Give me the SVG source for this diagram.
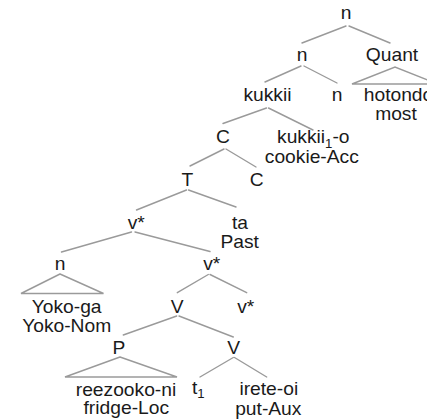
<svg xmlns="http://www.w3.org/2000/svg" width="427" height="419" viewBox="0 0 427 419">
<style>
text { font-family: "Liberation Sans", Arial, Helvetica, sans-serif; font-size: 17.5px; fill: #1a1a1a; text-anchor: middle; transform: scaleX(1.1); transform-box: fill-box; transform-origin: center; }
.sub { font-size: 12px; }
#connectors line, #connectors polyline { stroke: #9a9a9a; stroke-width: 1.4; fill: none; stroke-linecap: round; }
</style>
<rect width="427" height="419" fill="#ffffff"/>
<g id="connectors">
  <line x1="346" y1="26" x2="302" y2="43"/>
  <line x1="349" y1="26" x2="390" y2="43"/>
  <line x1="301" y1="66" x2="265" y2="82"/>
  <line x1="304" y1="66" x2="337" y2="83"/>
  <polyline points="438,84 395,67 352,84 438,84"/>
  <line x1="266.5" y1="108" x2="223" y2="123.5"/>
  <line x1="268.5" y1="108" x2="313" y2="130"/>
  <line x1="224" y1="149" x2="190" y2="166"/>
  <line x1="226" y1="149" x2="256" y2="167"/>
  <line x1="186.5" y1="190" x2="136.5" y2="210"/>
  <line x1="188.5" y1="190" x2="236" y2="207"/>
  <line x1="131.5" y1="232" x2="61.5" y2="252"/>
  <line x1="135" y1="232" x2="210" y2="251.5"/>
  <polyline points="60,274 21,293.5 103.5,293.5 60,274"/>
  <line x1="208.3" y1="274.5" x2="177.3" y2="292.7"/>
  <line x1="210" y1="274.5" x2="246.7" y2="292.7"/>
  <line x1="176.7" y1="316" x2="123.3" y2="335"/>
  <line x1="179" y1="316" x2="233.3" y2="337"/>
  <polyline points="120,357 65,377 177,377 120,357"/>
  <line x1="233.3" y1="357.5" x2="200" y2="377"/>
  <line x1="234.5" y1="357.5" x2="266.7" y2="377"/>
</g>
<g id="node-n-root"><text x="346" y="19">n</text></g>
<g id="node-n-2"><text x="302" y="61">n</text></g>
<g id="node-quant"><text x="392" y="61">Quant</text></g>
<g id="node-kukkii"><text x="267.5" y="101.5">kukkii</text></g>
<g id="node-n-3"><text x="337" y="101.5">n</text></g>
<g id="node-hotondo"><text x="398.5" y="101.5">hotondo</text><text x="396" y="120">most</text></g>
<g id="node-c-1"><text x="223" y="143.5">C</text></g>
<g id="node-kukkii-o"><text x="313.3" y="143.3">kukkii<tspan class="sub" dy="4.5">1</tspan><tspan dy="-4.5">-o</tspan></text><text x="311.8" y="163.3">cookie-Acc</text></g>
<g id="node-t"><text x="187.5" y="186">T</text></g>
<g id="node-c-2"><text x="256.7" y="186">C</text></g>
<g id="node-vstar-1"><text x="136.3" y="229">v*</text></g>
<g id="node-ta"><text x="240" y="229">ta</text><text x="239.7" y="248.3">Past</text></g>
<g id="node-n-4"><text x="60" y="270">n</text></g>
<g id="node-vstar-2"><text x="211.7" y="270.5">v*</text></g>
<g id="node-yoko"><text x="66.7" y="313.3">Yoko-ga</text><text x="66.7" y="331.7">Yoko-Nom</text></g>
<g id="node-v-1"><text x="177.3" y="313">V</text></g>
<g id="node-vstar-3"><text x="245.8" y="313">v*</text></g>
<g id="node-p"><text x="119" y="354">P</text></g>
<g id="node-v-2"><text x="233.7" y="354">V</text></g>
<g id="node-reezooko"><text x="126" y="396">reezooko-ni</text><text x="126.3" y="414">fridge-Loc</text></g>
<g id="node-t1"><text x="198.3" y="394">t<tspan class="sub" dy="4.5">1</tspan></text></g>
<g id="node-irete"><text x="268.8" y="395">irete-oi</text><text x="268.3" y="415">put-Aux</text></g>
</svg>
